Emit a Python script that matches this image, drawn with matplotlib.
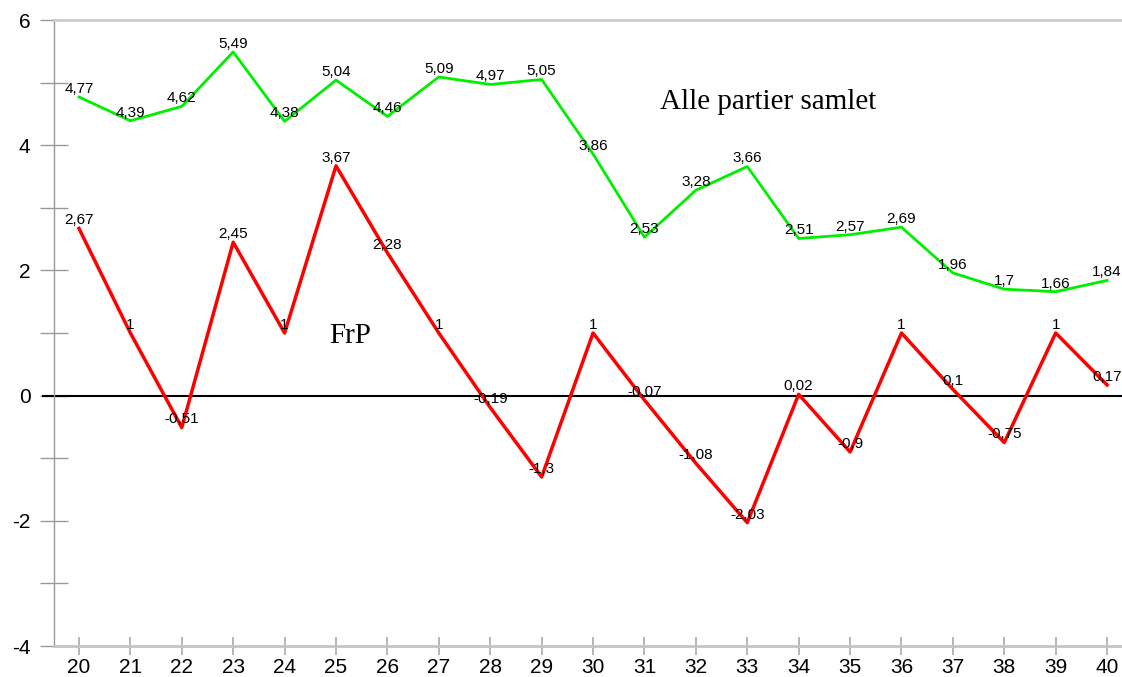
import matplotlib.pyplot as plt
from matplotlib.ticker import MultipleLocator

# data
years = list(range(20, 41))
alle = [4.77, 4.39, 4.62, 5.49, 4.38, 5.04, 4.46, 5.09, 4.97, 5.05, 3.86,
        2.53, 3.28, 3.66, 2.51, 2.57, 2.69, 1.96, 1.7, 1.66, 1.84]
frp = [2.67, 1, -0.51, 2.45, 1, 3.67, 2.28, 1, -0.19, -1.3, 1,
       -0.07, -1.08, -2.03, 0.02, -0.9, 1, 0.1, -0.75, 1, 0.17]
y_ticks = [-4, -2, 0, 2, 4, 6]

plt.rcParams["axes.unicode_minus"] = False


def fmt(v):
    return f"{v:g}".replace(".", ",")


def main():
    fig = plt.figure(figsize=(11.22, 6.77), dpi=100)
    ax = fig.add_axes([54 / 1122, 31 / 677, 1 - 54 / 1122, 626 / 677])
    ax.set_xlim(19.514, 40.29)
    ax.set_ylim(-4, 6)

    ax.plot(years, alle, color="#00ee00", lw=2, zorder=3)
    ax.plot(years, frp, color="#ff0000", lw=2.5, zorder=3)
    ax.plot([19.3, 40.29], [0, 0], color="black", lw=1.5, clip_on=False, zorder=2)

    for x, v in zip(years, alle):
        ax.annotate(fmt(v), (x, v), xytext=(0, 3), textcoords="offset points",
                    ha="center", va="baseline", fontsize=11, family="Liberation Sans", zorder=4)
    for x, v in zip(years, frp):
        ax.annotate(fmt(v), (x, v), xytext=(0, 3), textcoords="offset points",
                    ha="center", va="baseline", fontsize=11, family="Liberation Sans", zorder=4)

    ax.text(31.3, 4.578, "Alle partier samlet", family="Liberation Serif",
            fontsize=21, ha="left", va="baseline")
    ax.text(24.865, 0.84, "FrP", family="Liberation Serif",
            fontsize=21, ha="left", va="baseline")

    # axes styling
    ax.spines["right"].set_visible(False)
    ax.spines["left"].set_color("#999999")
    ax.spines["left"].set_linewidth(1)
    ax.spines["top"].set_color("#cccccc")
    ax.spines["top"].set_linewidth(2)
    ax.spines["bottom"].set_color("#c4c4c4")
    ax.spines["bottom"].set_linewidth(2)

    ax.set_xticks(years)
    ax.set_yticks(y_ticks)
    ax.yaxis.set_minor_locator(MultipleLocator(1))
    ax.tick_params(axis="y", which="both", direction="inout", length=20, width=1,
                   color="#999999", pad=7, labelsize=15)
    ax.tick_params(axis="x", direction="inout", length=13, width=1.2,
                   color="#aaaaaa", pad=2, labelsize=15)
    for lab in ax.get_xticklabels() + ax.get_yticklabels():
        lab.set_family("Liberation Sans")

    fig.savefig("out.png", dpi=100)


if __name__ == "__main__":
    main()
